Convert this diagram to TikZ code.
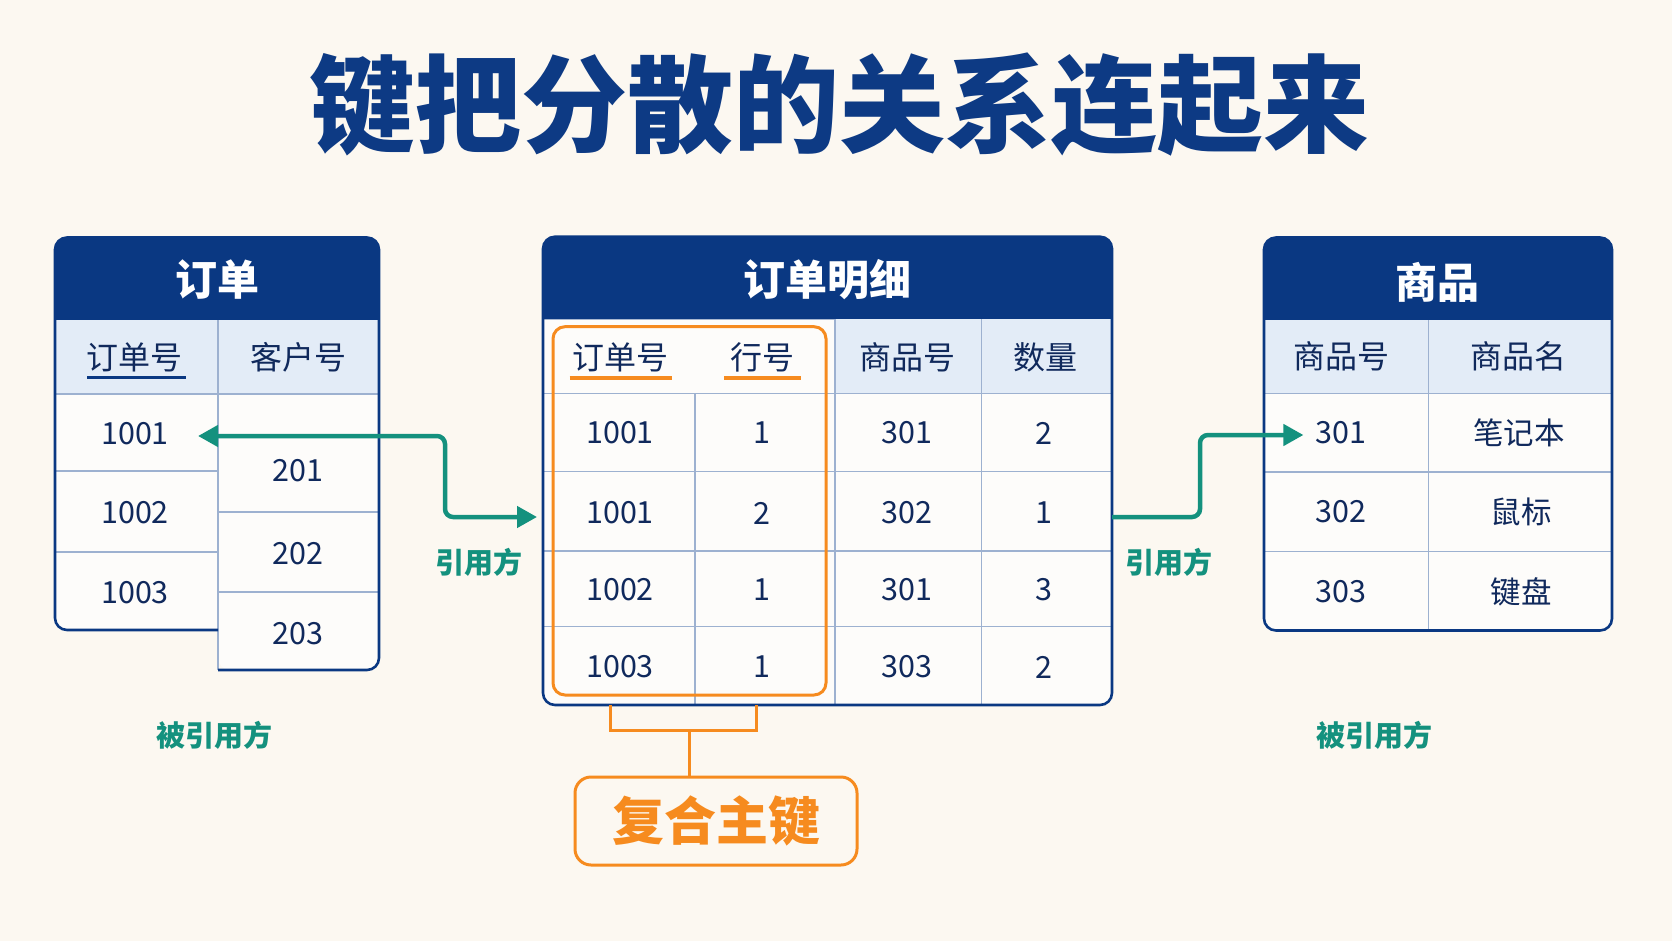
\documentclass[tikz,border=0pt]{standalone}
\usepackage{fontspec}
\setmainfont{Noto Sans CJK SC}
\usetikzlibrary{arrows.meta}
\definecolor{bg}{HTML}{FCF8F1}
\definecolor{navy}{HTML}{0A3882}
\definecolor{titlec}{HTML}{0D3A84}
\definecolor{ink}{HTML}{10295C}
\definecolor{lightblue}{HTML}{E3ECF7}
\definecolor{cellw}{HTML}{FDFCFA}
\definecolor{gridc}{HTML}{9DB1D0}
\definecolor{tealc}{HTML}{14917E}
\definecolor{orng}{HTML}{F68B1F}
\begin{document}
\begin{tikzpicture}[x=1pt,y=-1pt,
  tbtitle/.style={text=white, font=\bfseries\fontsize{42}{48}\selectfont, inner sep=0pt},
  colhead/.style={text=ink, font=\fontsize{32}{38}\selectfont, inner sep=0pt},
  cell/.style={text=ink, font=\fontsize{30.5}{36}\selectfont, inner sep=0pt},
  frame/.style={draw=navy, line width=2.6pt, rounded corners=12pt},
  gridline/.style={draw=gridc, line width=1.3pt},
  fk/.style={draw=tealc, line width=4.5pt, rounded corners=8pt},
  fklabel/.style={text=tealc, font=\bfseries\fontsize{29}{34}\selectfont, inner sep=0pt},
  pk/.style={draw=orng, line width=3pt}
]
\fill[bg] (0,0) rectangle (1672,941);
\useasboundingbox (0,0) rectangle (1672,941);

% title
\node[text=titlec, font=\bfseries\fontsize{106}{118}\selectfont, inner sep=0pt] (title) at (839,105) {键把分散的关系连起来};

% ---------- left table: 订单 ----------
\fill[cellw, rounded corners=12pt] (55,237.5) rectangle (218,630);
\fill[cellw, rounded corners=12pt] (218,237.5) rectangle (379,670);
\fill[cellw] (100,237.5) rectangle (300,630);
\fill[navy] (55,320) [rounded corners=12pt] -- (55,237.5) -- (379,237.5) [sharp corners] -- (379,320) -- cycle;
\fill[lightblue] (55,320) rectangle (379,394);
\draw[gridline] (55,394) -- (379,394);
\draw[gridline] (218,320) -- (218,670);
\draw[gridline] (55,471) -- (218,471) (55,552) -- (218,552);
\draw[gridline] (218,512) -- (379,512) (218,592) -- (379,592);
\draw[frame] (218,670) -- (379,670) -- (379,237.5) -- (55,237.5) -- (55,630) -- (218,630);
\node[tbtitle] (t1) at (217,280) {订单};
\node[colhead] (h11) at (134,357) {订单号};
\node[colhead] (h12) at (298,357) {客户号};
\draw[navy, line width=3pt] (87,377.5) -- (186,377.5);
\node[cell] (o1001) at (135,434) {1001};
\node[cell] (o1002) at (135,513) {1002};
\node[cell] (o1003) at (135,593) {1003};
\node[cell] (c201) at (298,471) {201};
\node[cell] (c202) at (298,554) {202};
\node[cell] (c203) at (298,634) {203};

% ---------- middle table: 订单明细 ----------
\fill[cellw, rounded corners=12pt] (543,236.7) rectangle (1112,705);
\fill[navy] (543,319.3) [rounded corners=12pt] -- (543,236.7) -- (1112,236.7) [sharp corners] -- (1112,319.3) -- cycle;
\fill[lightblue] (835,319.3) rectangle (1112,393.3);
\draw[gridline] (543,393.3) -- (1112,393.3);
\draw[gridline] (543,471.7) -- (1112,471.7) (543,551) -- (1112,551) (543,626.7) -- (1112,626.7);
\draw[gridline] (695,393.3) -- (695,705) (835,319.3) -- (835,705) (981.6,319.3) -- (981.6,705);
\draw[frame] (543,236.7) rectangle (1112,705);
\node[tbtitle] (t2) at (827,280) {订单明细};
\node[colhead] (h21) at (620,357) {订单号};
\node[colhead] (h22) at (762,357) {行号};
\node[colhead] (h23) at (907,357) {商品号};
\node[colhead] (h24) at (1045,357) {数量};
\draw[orng, line width=4pt] (569.5,378.3) -- (671.5,378.3) (724,378.3) -- (800.5,378.3);
\foreach \y/\a/\b/\c/\d [count=\i] in {433/1001/1/301/2, 513/1001/2/302/1, 590/1002/1/301/3, 667/1003/1/303/2}{
  \node[cell] (d\i a) at (620,\y) {\a};
  \node[cell] (d\i b) at (762,\y) {\b};
  \node[cell] (d\i c) at (907,\y) {\c};
  \node[cell] (d\i d) at (1044,\y) {\d};
}
\draw[pk, rounded corners=12pt] (553,326.7) rectangle (826,695);

% ---------- right table: 商品 ----------
\fill[cellw, rounded corners=12pt] (1264,237.5) rectangle (1612,630.5);
\fill[navy] (1264,320) [rounded corners=12pt] -- (1264,237.5) -- (1612,237.5) [sharp corners] -- (1612,320) -- cycle;
\fill[lightblue] (1264,320) rectangle (1612,393.2);
\draw[gridline] (1264,393.2) -- (1612,393.2) (1264,472) -- (1612,472) (1264,551.6) -- (1612,551.6);
\draw[gridline] (1428.4,320) -- (1428.4,630.5);
\draw[frame] (1264,237.5) rectangle (1612,630.5);
\node[tbtitle] (t3) at (1437,282) {商品};
\node[colhead] (h31) at (1341,356) {商品号};
\node[colhead] (h32) at (1518,356) {商品名};
\node[cell] (p301) at (1341,433) {301};
\node[cell] (p302) at (1341,512) {302};
\node[cell] (p303) at (1341,592) {303};
\node[cell] (n1) at (1519,433) {笔记本};
\node[cell] (n2) at (1521,512) {鼠标};
\node[cell] (n3) at (1521,592) {键盘};

% ---------- foreign key connectors ----------
\coordinate (ltip) at ([xshift=29pt,yshift=-2pt]o1001.east);
\coordinate (mleft) at (537,517);
\coordinate (mright) at (1112,517);
\coordinate (rtip) at ([xshift=-12pt,yshift=-2pt]p301.west);
\draw[fk, {Triangle[length=20pt,width=21pt]}-{Triangle[length=20pt,width=21pt]}] (ltip) -| (445,517) -- (mleft);
\draw[fk, -{Triangle[length=20pt,width=21pt]}] (mright) -- (1200,517) |- (rtip);
\node[fklabel] (ref1) at (479,562) {引用方};
\node[fklabel] (ref2) at (1169,562) {引用方};
\node[fklabel] (bref1) at (214,735) {被引用方};
\node[fklabel] (bref2) at (1374,735) {被引用方};

% ---------- composite primary key ----------
\node[draw=orng, line width=3pt, rounded corners=16pt, minimum width=282pt, minimum height=88pt, inner sep=0pt,
      text=orng, font=\bfseries\fontsize{52}{60}\selectfont] (pkbox) at (716,821) {复合主键};
\coordinate (bL) at (610,705);
\coordinate (bR) at (756,705);
\coordinate (bM) at (689,730);
\draw[pk] (bL) -- (610,730) -- (756,730) -- (bR);
\draw[pk] (bM) -- (bM |- pkbox.north);
\end{tikzpicture}
\end{document}
